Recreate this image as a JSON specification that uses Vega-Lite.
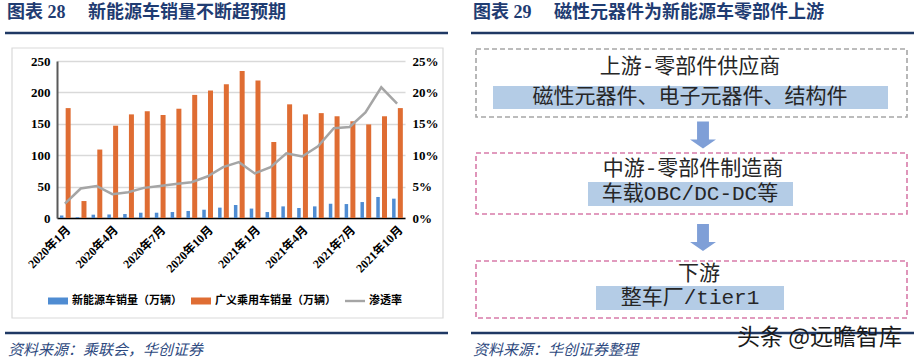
{
  "$schema": "https://vega.github.io/schema/vega-lite/v6.json",
  "width": 914,
  "height": 362,
  "padding": 0,
  "autosize": {"type": "none"},
  "background": "white",
  "config": {"view": {"stroke": null}, "font": "Noto Sans CJK SC"},
  "layer": [
    {
      "layer": [
        {
          "data": {"values": [{"x": 12, "x2": 443, "y": 48, "y2": 318}]},
          "mark": {"type": "rect", "filled": false, "stroke": "#D9D9D9", "strokeWidth": 1.2},
          "encoding": {
            "x": {"field": "x", "type": "quantitative", "scale": {"domain": [0, 914], "nice": false, "zero": false}, "axis": null},
            "x2": {"field": "x2"},
            "y": {"field": "y", "type": "quantitative", "scale": {"domain": [362, 0], "nice": false, "zero": false}, "axis": null},
            "y2": {"field": "y2"}
          }
        },
        {
          "data": {"values": [
            {"x": 5, "x2": 448, "y": 33},
            {"x": 471, "x2": 914, "y": 33},
            {"x": 5, "x2": 448, "y": 333},
            {"x": 471, "x2": 914, "y": 333}
          ]},
          "mark": {"type": "rule", "color": "#1F3864", "strokeWidth": 2.5},
          "encoding": {
            "x": {"field": "x", "type": "quantitative", "axis": null},
            "x2": {"field": "x2"},
            "y": {"field": "y", "type": "quantitative", "axis": null}
          }
        },
        {
          "data": {"values": [
            {"x": 7, "y": 13, "t": "图表 28"},
            {"x": 88, "y": 13, "t": "新能源车销量不断超预期"},
            {"x": 473, "y": 13, "t": "图表 29"},
            {"x": 554, "y": 13, "t": "磁性元器件为新能源车零部件上游"}
          ]},
          "mark": {"type": "text", "align": "left", "baseline": "middle", "font": "Liberation Serif, Noto Sans CJK SC", "fontWeight": "bold", "fontSize": 18, "color": "#1F3C72"},
          "encoding": {
            "x": {"field": "x", "type": "quantitative", "axis": null},
            "y": {"field": "y", "type": "quantitative", "axis": null},
            "text": {"field": "t"}
          }
        },
        {
          "data": {"values": [
            {"x": 8, "y": 350, "t": "资料来源：乘联会，华创证券"},
            {"x": 473, "y": 350, "t": "资料来源：华创证券整理"}
          ]},
          "mark": {"type": "text", "align": "left", "baseline": "middle", "fontStyle": "italic", "fontSize": 15, "color": "#2E4A80"},
          "encoding": {
            "x": {"field": "x", "type": "quantitative", "axis": null},
            "y": {"field": "y", "type": "quantitative", "axis": null},
            "text": {"field": "t"}
          }
        },
        {
          "data": {"values": [
            {"stage": "上游", "x": 476, "x2": 907, "y": 49, "y2": 117},
            {"stage": "中游", "x": 476, "x2": 907, "y": 153, "y2": 214},
            {"stage": "下游", "x": 476, "x2": 907, "y": 261, "y2": 318}
          ]},
          "mark": {"type": "rect", "filled": false, "strokeDash": [5, 3], "strokeWidth": 1.6},
          "encoding": {
            "x": {"field": "x", "type": "quantitative", "axis": null},
            "x2": {"field": "x2"},
            "y": {"field": "y", "type": "quantitative", "axis": null},
            "y2": {"field": "y2"},
            "stroke": {"field": "stage", "type": "nominal", "scale": {"domain": ["上游", "中游", "下游"], "range": ["#A6A6A6", "#D87BA9", "#D87BA9"]}, "legend": null}
          }
        },
        {
          "data": {"values": [
            {"stage": "上游", "x": 493, "x2": 888, "y": 86, "y2": 109},
            {"stage": "中游", "x": 588, "x2": 793, "y": 182, "y2": 206},
            {"stage": "下游", "x": 596, "x2": 784, "y": 286, "y2": 310}
          ]},
          "mark": {"type": "rect", "color": "#B4CCE6"},
          "encoding": {
            "x": {"field": "x", "type": "quantitative", "axis": null},
            "x2": {"field": "x2"},
            "y": {"field": "y", "type": "quantitative", "axis": null},
            "y2": {"field": "y2"}
          }
        },
        {
          "data": {"values": [
            {"x": 703, "y": 135},
            {"x": 703, "y": 237.5}
          ]},
          "mark": {"type": "point", "shape": "M-0.44,-1H0.44V0.33H0.96L0,1L-0.96,0.33H-0.44Z", "size": 729, "filled": true, "color": "#7F9FD7", "opacity": 1, "strokeWidth": 0},
          "encoding": {
            "x": {"field": "x", "type": "quantitative", "axis": null},
            "y": {"field": "y", "type": "quantitative", "axis": null}
          }
        },
        {
          "data": {"values": [
            {"x": 690, "y": 67, "t": "上游-零部件供应商"},
            {"x": 690, "y": 97, "t": "磁性元器件、电子元器件、结构件"},
            {"x": 693, "y": 169, "t": "中游-零部件制造商"},
            {"x": 690, "y": 194, "t": "车载OBC/DC-DC等"},
            {"x": 699, "y": 274, "t": "下游"},
            {"x": 690, "y": 298, "t": "整车厂/tier1"}
          ]},
          "mark": {"type": "text", "align": "center", "baseline": "middle", "font": "Liberation Mono, Noto Sans CJK SC", "fontSize": 21, "color": "#262626"},
          "encoding": {
            "x": {"field": "x", "type": "quantitative", "axis": null},
            "y": {"field": "y", "type": "quantitative", "axis": null},
            "text": {"field": "t"}
          }
        },
        {
          "data": {"values": [{"x": 737, "y": 338, "t": "头条 @远瞻智库"}]},
          "mark": {"type": "text", "align": "left", "baseline": "middle", "fontSize": 23, "color": "#1A1A1A"},
          "encoding": {
            "x": {"field": "x", "type": "quantitative", "axis": null},
            "y": {"field": "y", "type": "quantitative", "axis": null},
            "text": {"field": "t"}
          }
        }
      ]
    },
    {
      "data": {"values": [
        {"month": "2020年1月", "nev": 4.0, "total": 175, "rate": 0.023},
        {"month": "2020年2月", "nev": 1.3, "total": 27, "rate": 0.047},
        {"month": "2020年3月", "nev": 5.3, "total": 109, "rate": 0.051},
        {"month": "2020年4月", "nev": 5.6, "total": 147, "rate": 0.038},
        {"month": "2020年5月", "nev": 6.3, "total": 165, "rate": 0.041},
        {"month": "2020年6月", "nev": 8.4, "total": 170, "rate": 0.048},
        {"month": "2020年7月", "nev": 8.4, "total": 164, "rate": 0.051},
        {"month": "2020年8月", "nev": 9.5, "total": 174, "rate": 0.054},
        {"month": "2020年9月", "nev": 11.2, "total": 196, "rate": 0.057},
        {"month": "2020年10月", "nev": 13.2, "total": 203, "rate": 0.066},
        {"month": "2020年11月", "nev": 16.5, "total": 213, "rate": 0.081},
        {"month": "2020年12月", "nev": 20.7, "total": 234, "rate": 0.089},
        {"month": "2021年1月", "nev": 15.0, "total": 219, "rate": 0.071},
        {"month": "2021年2月", "nev": 9.5, "total": 121, "rate": 0.081},
        {"month": "2021年3月", "nev": 18.5, "total": 181, "rate": 0.103},
        {"month": "2021年4月", "nev": 15.9, "total": 165, "rate": 0.098},
        {"month": "2021年5月", "nev": 18.5, "total": 167, "rate": 0.114},
        {"month": "2021年6月", "nev": 22.7, "total": 162, "rate": 0.143},
        {"month": "2021年7月", "nev": 22.2, "total": 154, "rate": 0.145},
        {"month": "2021年8月", "nev": 25.4, "total": 149, "rate": 0.168},
        {"month": "2021年9月", "nev": 33.5, "total": 162, "rate": 0.208},
        {"month": "2021年10月", "nev": 30.8, "total": 175, "rate": 0.182}
      ]},
      "layer": [
        {
          "mark": {"type": "bar", "width": 3.5},
          "encoding": {
            "x": {
              "field": "month", "type": "ordinal", "sort": null,
              "scale": {"range": [57, 405], "paddingInner": 0, "paddingOuter": 0},
              "axis": {
                "orient": "bottom", "offset": -144, "title": null,
                "values": ["2020年1月", "2020年4月", "2020年7月", "2020年10月", "2021年1月", "2021年4月", "2021年7月", "2021年10月"],
                "labelAngle": -45, "ticks": false, "grid": false,
                "domainColor": "#000000", "domainWidth": 1.5,
                "labelFont": "Liberation Serif, Noto Sans CJK SC", "labelFontWeight": "bold", "labelFontSize": 12, "labelColor": "#000000", "labelPadding": 6
              }
            },
            "xOffset": {"datum": "新能源车销量（万辆）", "scale": {"domain": ["新能源车销量（万辆）", "广义乘用车销量（万辆）"], "paddingInner": 0, "paddingOuter": 0.217}},
            "y": {
              "field": "nev", "type": "quantitative",
              "scale": {"domain": [0, 250], "range": [218, 61], "nice": false},
              "axis": {
                "orient": "left", "offset": -57, "title": null,
                "values": [0, 50, 100, 150, 200, 250], "ticks": false, "labelPadding": 7,
                "labelFont": "Liberation Serif", "labelFontWeight": "bold", "labelFontSize": 13, "labelColor": "#000000",
                "domainColor": "#595959", "domainWidth": 2,
                "grid": true, "gridColor": "#D9D9D9", "gridWidth": 1.5
              }
            },
            "color": {
              "datum": "新能源车销量（万辆）",
              "scale": {"domain": ["新能源车销量（万辆）", "广义乘用车销量（万辆）", "渗透率"], "range": ["#4F8CD2", "#DF6D33", "#A5A5A5"]},
              "legend": {
                "orient": "none", "legendX": 48, "legendY": 291, "direction": "horizontal", "title": null,
                "symbolSize": 400, "labelFont": "Noto Sans CJK SC", "labelFontSize": 11, "labelFontWeight": "bold", "labelColor": "#000000",
                "labelOffset": 4, "columnPadding": 9, "labelLimit": 300, "padding": 0,
                "encode": {"symbols": {"update": {
                  "shape": {"signal": "datum.value === '渗透率' ? 'M-1,-0.12H1V0.12H-1Z' : 'M-1,-0.35H1V0.35H-1Z'"},
                  "fill": {"scale": "color", "field": "value"},
                  "stroke": {"value": "transparent"},
                  "strokeWidth": {"value": 0},
                  "opacity": {"value": 1}
                }}}
              }
            }
          }
        },
        {
          "mark": {"type": "bar", "width": 5},
          "encoding": {
            "x": {"field": "month", "type": "ordinal", "sort": null},
            "xOffset": {"datum": "广义乘用车销量（万辆）"},
            "y": {"field": "total", "type": "quantitative", "scale": {"domain": [0, 250], "range": [218, 61], "nice": false}, "axis": null},
            "color": {"datum": "广义乘用车销量（万辆）"}
          }
        },
        {
          "mark": {"type": "line", "strokeWidth": 2.5},
          "encoding": {
            "x": {"field": "month", "type": "ordinal", "sort": null},
            "y": {
              "field": "rate", "type": "quantitative",
              "scale": {"domain": [0, 0.25], "range": [218, 61], "nice": false},
              "axis": {
                "orient": "right", "offset": -509, "title": null, "format": ".0%",
                "values": [0, 0.05, 0.1, 0.15, 0.2, 0.25], "ticks": false, "domain": false, "grid": false, "labelPadding": 7,
                "labelFont": "Liberation Serif", "labelFontWeight": "bold", "labelFontSize": 13, "labelColor": "#000000"
              }
            },
            "color": {"datum": "渗透率"}
          }
        }
      ],
      "resolve": {"scale": {"y": "independent"}}
    }
  ],
  "resolve": {"scale": {"x": "independent", "y": "independent"}}
}
